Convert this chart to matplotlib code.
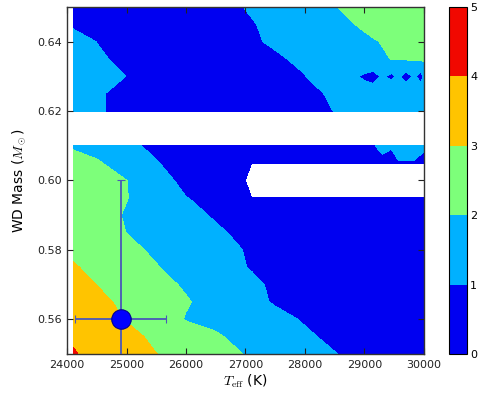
import numpy as np
import matplotlib
matplotlib.use("Agg")
import matplotlib.pyplot as plt

plt.rcParams['mathtext.fontset'] = 'cm'
plt.rcParams['font.family'] = ['DejaVu Sans']

# Grid of effective temperatures (K) and WD masses (Msun)
teff = [24100, 24500, 25000, 25500, 26000, 26500, 27000, 27100, 27500, 28000,
        28500, 29000, 29150, 29300, 29450, 29575, 29700, 29825, 29950, 30000]
mass = [0.550, 0.555, 0.560, 0.565, 0.570, 0.575, 0.580, 0.585, 0.590, 0.595,
        0.600, 0.605, 0.610, 0.615, 0.620, 0.625, 0.630, 0.635, 0.640, 0.645, 0.650]
nan = np.nan
# contour value at each (mass row, teff column)
row_0550 = [4.06, 3.76, 3.38, 3.01, 2.66, 2.31, 1.97, 1.91, 1.65, 1.34, 1.03, 0.74, 0.66, 0.58, 0.50, 0.42, 0.36, 0.30, 0.30, 0.30]
row_0555 = [3.92, 3.57, 3.21, 2.85, 2.47, 2.09, 1.76, 1.69, 1.44, 1.12, 0.83, 0.57, 0.49, 0.41, 0.30, 0.30, 0.30, 0.30, 0.30, 0.30]
row_0560 = [3.71, 3.38, 2.96, 2.54, 1.95, 1.80, 1.51, 1.45, 1.22, 0.93, 0.67, 0.41, 0.35, 0.30, 0.30, 0.30, 0.30, 0.30, 0.30, 0.30]
row_0565 = [3.50, 3.20, 2.82, 2.44, 2.07, 1.68, 1.28, 1.20, 0.93, 0.69, 0.45, 0.30, 0.30, 0.30, 0.30, 0.30, 0.30, 0.30, 0.30, 0.30]
row_0570 = [3.28, 2.99, 2.62, 2.26, 1.90, 1.55, 1.20, 1.13, 0.89, 0.65, 0.40, 0.30, 0.30, 0.30, 0.30, 0.30, 0.30, 0.30, 0.30, 0.30]
row_0575 = [3.08, 2.78, 2.41, 2.04, 1.70, 1.35, 1.01, 0.96, 0.77, 0.53, 0.30, 0.25, 0.25, 0.25, 0.25, 0.25, 0.25, 0.25, 0.25, 0.25]
row_0580 = [2.84, 2.47, 2.18, 1.88, 1.58, 1.27, 0.97, 0.92, 0.71, 0.46, 0.30, 0.25, 0.25, 0.25, 0.25, 0.25, 0.25, 0.25, 0.25, 0.25]
row_0585 = [2.90, 2.50, 1.99, 1.70, 1.40, 1.11, 0.83, 0.78, 0.57, 0.30, 0.25, 0.25, 0.25, 0.25, 0.25, 0.25, 0.25, 0.25, 0.25, 0.25]
row_0590 = [2.75, 2.37, 1.92, 1.58, 1.23, 0.92, 0.68, 0.64, 0.44, 0.30, 0.25, 0.25, 0.25, 0.25, 0.25, 0.25, 0.25, 0.25, 0.25, 0.25]
row_0595 = [2.80, 2.46, 2.03, 1.53, 1.02, 0.78, 0.54, 0.49, 0.30, 0.25, 0.25, 0.25, 0.25, 0.25, 0.25, 0.25, 0.25, 0.25, 0.25, 0.25]
row_0600 = [2.70, 2.39, 2.01, 1.38, 0.75, 0.60, 0.40, nan, nan, nan, nan, nan, nan, nan, nan, nan, nan, nan, nan, nan]
row_0605 = [2.60, 2.15, 1.40, 1.05, 0.63, 0.40, 0.35, 0.35, 0.35, 0.40, 0.50, 0.60, 0.65, 0.80, 0.60, 0.95, 0.95, 0.95, 0.80, 0.60]
row_0610 = [1.81, 1.53, 1.18, 0.82, 0.64, 0.40, 0.49, 0.51, 0.58, 0.67, 0.76, 0.85, 0.95, 1.20, 1.10, 1.30, 1.30, 1.30, 1.20, 1.20]
row_0615 = [nan] * 20
row_0620 = [1.50, 1.13, 0.67, 0.55, 0.43, 0.36, 0.52, 0.55, 0.68, 0.84, 1.01, 1.20, 1.26, 1.32, 1.38, 1.43, 1.48, 1.53, 1.58, 1.60]
row_0625 = [1.50, 1.13, 0.67, 0.55, 0.43, 0.37, 0.54, 0.57, 0.71, 0.88, 1.07, 1.45, 1.50, 1.55, 1.60, 1.62, 1.65, 1.68, 1.70, 1.70]
row_0630 = [1.70, 1.38, 0.99, 0.70, 0.41, 0.41, 0.60, 0.64, 0.79, 0.98, 1.60, 0.85, 0.65, 1.15, 0.80, 1.15, 0.60, 1.15, 0.65, 1.15]
row_0635 = [1.60, 1.20, 0.70, 0.50, 0.30, 0.50, 0.70, 0.74, 0.90, 1.15, 1.45, 1.75, 1.84, 1.93, 2.01, 2.04, 2.07, 2.10, 2.14, 2.15]
row_0640 = [1.50, 0.98, 0.72, 0.46, 0.39, 0.63, 0.86, 0.91, 1.10, 1.36, 1.62, 1.87, 1.95, 2.03, 2.13, 2.22, 2.30, 2.38, 2.47, 2.50]
row_0645 = [0.82, 0.70, 0.54, 0.39, 0.40, 0.65, 0.90, 0.95, 1.18, 1.48, 1.79, 2.10, 2.20, 2.29, 2.39, 2.47, 2.55, 2.64, 2.72, 2.75]
row_0650 = [0.80, 0.68, 0.54, 0.39, 0.42, 0.72, 1.02, 1.08, 1.34, 1.66, 1.97, 2.30, 2.40, 2.49, 2.59, 2.67, 2.75, 2.84, 2.92, 2.95]

levels = [0, 1, 2, 3, 4, 5]

# measured point
star_teff = 24900
star_mass = 0.560
star_teff_err = 760
star_mass_err = 0.04

xticks = [24000, 25000, 26000, 27000, 28000, 29000, 30000]
yticks = [0.56, 0.58, 0.60, 0.62, 0.64]

z = np.ma.masked_invalid(np.array([
    row_0550, row_0555, row_0560, row_0565, row_0570, row_0575, row_0580,
    row_0585, row_0590, row_0595, row_0600, row_0605, row_0610, row_0615,
    row_0620, row_0625, row_0630, row_0635, row_0640, row_0645, row_0650]))

fig = plt.figure(figsize=(4.79, 3.98), dpi=100)
ax = fig.add_axes([0.140, 0.1106, 0.745, 0.872])
cax = fig.add_axes([0.9374, 0.1106, 0.038, 0.872])

cs = ax.contourf(teff, mass, z, levels=levels, cmap='jet', corner_mask=True)

ax.errorbar(star_teff, star_mass, xerr=star_teff_err, yerr=star_mass_err,
            fmt='o', color='#0000ff', ms=14, mec='#000090', mew=0.8,
            ecolor='#4a58b8', elinewidth=1.3, capsize=3, capthick=1.0,
            zorder=5, clip_on=True)

ax.set_xlim(24000, 30000)
ax.set_ylim(0.55, 0.65)
ax.set_xticks(xticks)
ax.set_xticklabels([str(t) for t in xticks])
ax.set_yticks(yticks)
ax.set_yticklabels(['%.2f' % t for t in yticks])
ax.tick_params(direction='in', top=True, right=True, labelsize=8, length=4,
               width=0.8, pad=4, colors='#222222')
for s in ax.spines.values():
    s.set_color('#333333')
    s.set_linewidth(1.0)

ax.set_xlabel(r'$T_{\rm eff}$ (K)', fontsize=10, labelpad=2)
ax.set_ylabel(r'WD Mass ($M_\odot$)', fontsize=10, labelpad=6)

cb = fig.colorbar(cs, cax=cax, ticks=levels)
cb.ax.tick_params(labelsize=8, direction='in', length=0, pad=2)
cb.outline.set_linewidth(0.8)

fig.savefig('out.png', dpi=100, facecolor='white')
